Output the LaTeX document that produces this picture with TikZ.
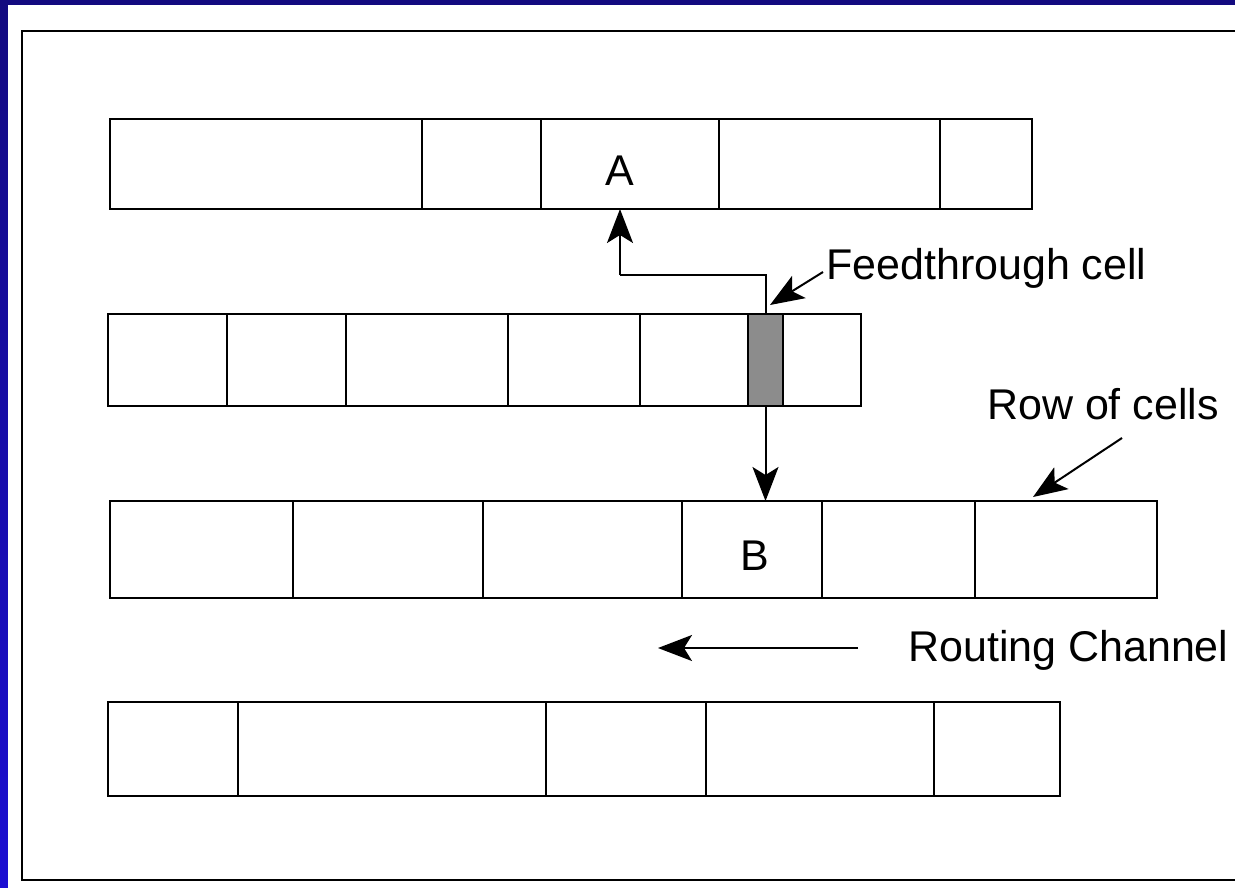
\documentclass[tikz,border=0pt]{standalone}
\usepackage{fontspec}
\setmainfont{Liberation Sans}
\usetikzlibrary{arrows.meta,calc}
\definecolor{navy}{HTML}{130A80}
\definecolor{brightblue}{HTML}{1C0ED2}
\definecolor{ftgray}{HTML}{8C8C8C}
\tikzset{
  cell/.style={draw, line width=2pt, inner sep=0pt, outer sep=0pt, anchor=north west},
  conn/.style={line width=2pt, -{Stealth[length=34pt,width=26pt,inset=8pt]}},
  wire/.style={line width=2pt},
  lbl/.style={font=\fontsize{43}{50}\selectfont, inner sep=0pt},
}
\begin{document}
\begin{tikzpicture}[x=1pt,y=-1pt]
\useasboundingbox (0,0) rectangle (1235,887);
\shade[top color=navy, bottom color=brightblue] (0,0) rectangle (1235,887);
\fill[white] (8,5) rectangle (1240,890);
\draw[line width=2pt] (22,31) rectangle (1240,880);

% Row 1
\foreach \a/\b/\n in {110/422/r1c1,422/541/r1c2,541/719/A,719/940/r1c4,940/1032/r1c5}
  \node[cell, minimum width={(\b-\a)*1pt}, minimum height=90pt] (\n) at (\a,119) {};
\node[lbl] at ($(A.center)+(-10,7)$) {A};

% Row 2
\foreach \a/\b/\n in {108/227/r2c1,227/346/r2c2,346/508/r2c3,508/640/r2c4,640/748/r2c5,783/861/r2c7}
  \node[cell, minimum width={(\b-\a)*1pt}, minimum height=92pt] (\n) at (\a,314) {};
\node[cell, fill=ftgray, minimum width=35pt, minimum height=92pt] (ft) at (748,314) {};

% Row 3
\foreach \a/\b/\n in {110/293/r3c1,293/483/r3c2,483/682/r3c3,682/822/B,822/975/r3c5,975/1157/r3c6}
  \node[cell, minimum width={(\b-\a)*1pt}, minimum height=97pt] (\n) at (\a,501) {};
\node[lbl] at ($(B.center)+(3,6)$) {B};

% Row 4
\foreach \a/\b/\n in {108/238/r4c1,238/546/r4c2,546/706/r4c3,706/934/r4c4,934/1060/r4c5}
  \node[cell, minimum width={(\b-\a)*1pt}, minimum height=94pt] (\n) at (\a,702) {};

% Feedthrough routing
\coordinate (bend) at (620,275);
\draw[wire] (ft.north) |- (bend);
\draw[conn] (bend) -- (bend |- A.south);
\draw[conn] (ft.south) -- (ft.south |- B.north);

% Labels
\node[lbl, anchor=west] (ftlabel) at (826,268) {Feedthrough cell};
\coordinate (fttip) at (770,305);
\draw[conn] ($(ftlabel.west)+(-3,4)$) -- (fttip);

\node[lbl] (rowlabel) at (1103,404) {Row of cells};
\coordinate (rowtip) at (1033,497);
\draw[conn] (1122,438) -- (rowtip);

\node[lbl, anchor=west] (rclabel) at (908,650) {Routing Channel};
\coordinate (rctip) at (658,648);
\draw[conn] ($(rclabel.west)+(-50,-2)$) -- (rctip);
\end{tikzpicture}
\end{document}
